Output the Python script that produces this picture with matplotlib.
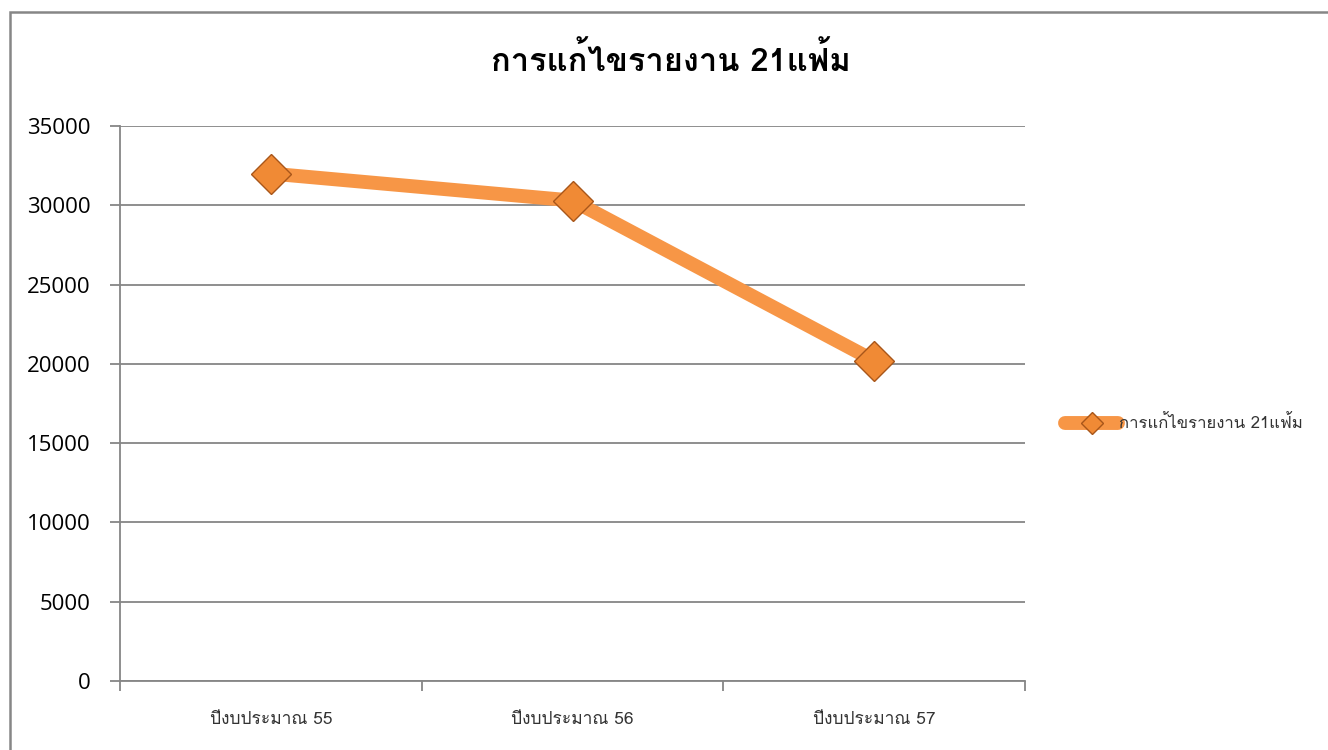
import matplotlib
matplotlib.use("Agg")
import matplotlib.pyplot as plt
from matplotlib import font_manager
from matplotlib.patches import Rectangle
from fontTools.ttLib import TTFont

categories = ["ปีงบประมาณ 55", "ปีงบประมาณ 56", "ปีงบประมาณ 57"]
values = [32000, 30300, 20200]
series_name = "การแก้ไขรายงาน 21แฟ้ม"
title = "การแก้ไขรายงาน 21แฟ้ม"
yticks = [0, 5000, 10000, 15000, 20000, 25000, 30000, 35000]

# find an installed family that has Thai glyphs
thai_fams = []
for f in font_manager.fontManager.ttflist:
    try:
        tt = TTFont(f.fname, fontNumber=0, lazy=True)
        cmap = tt.getBestCmap() or {}
        if 0x0E01 in cmap and 0x0E49 in cmap:
            if f.name not in thai_fams:
                thai_fams.append(f.name)
    except Exception:
        pass
pref = ["Tahoma", "Loma", "Garuda", "Noto Sans Thai", "Sarabun", "Norasi", "Kinnari"]
thai_fams.sort(key=lambda n: pref.index(n) if n in pref else len(pref))
fams = thai_fams + ["DejaVu Sans"]
plt.rcParams["font.family"] = fams

orange = "#F79646"
edge = "#A8561A"
grid = "#868686"

fig = plt.figure(figsize=(13.28, 7.5), dpi=100)
ax = fig.add_axes([120 / 1328, 1 - 681 / 750, (1025 - 120) / 1328, (681 - 126) / 750])

x = list(range(len(categories)))
ax.plot(x, values, color=orange, lw=10, solid_capstyle="round", zorder=3,
        label=series_name, marker="D", markersize=20, markerfacecolor="#F08A35",
        markeredgecolor=edge, markeredgewidth=1.0)

ax.set_xlim(-0.5, len(categories) - 0.5)
ax.set_ylim(0, 35000)
ax.set_yticks(yticks)
ax.set_yticklabels([str(v) for v in yticks], fontsize=16, family=["Open Sans", "DejaVu Sans"])
ax.yaxis.grid(True, color=grid, lw=1.3)
ax.set_axisbelow(True)

ax.set_xticks(x)
ax.set_xticklabels(categories, fontsize=12.5, color="#333333")
ax.set_xticks([i - 0.5 for i in range(len(categories) + 1)], minor=True)
ax.tick_params(axis="x", which="major", length=0, pad=22)
ax.tick_params(axis="x", which="minor", length=7, color=grid, width=1.3)
ax.tick_params(axis="y", length=7, color=grid, width=1.3, pad=14)

for s in ["top", "right"]:
    ax.spines[s].set_visible(False)
for s in ["left", "bottom"]:
    ax.spines[s].set_color(grid)
    ax.spines[s].set_linewidth(1.3)

fig.text(671 / 1328, 1 - 60 / 750, title, ha="center", va="center", fontsize=23.5, fontweight="bold")

leg = fig.legend(loc="center left", bbox_to_anchor=(1050 / 1328, 1 - 424 / 750),
                 frameon=False, fontsize=12, handlelength=3.2, handletextpad=0.05,
                 markerscale=0.55, labelcolor="#333333")

fig.patches.append(Rectangle((10 / 1328, -0.1), 1.2, 1.1 - 12 / 750, transform=fig.transFigure,
                             fill=False, edgecolor=grid, lw=1.8))

fig.savefig("out.png", dpi=100)
